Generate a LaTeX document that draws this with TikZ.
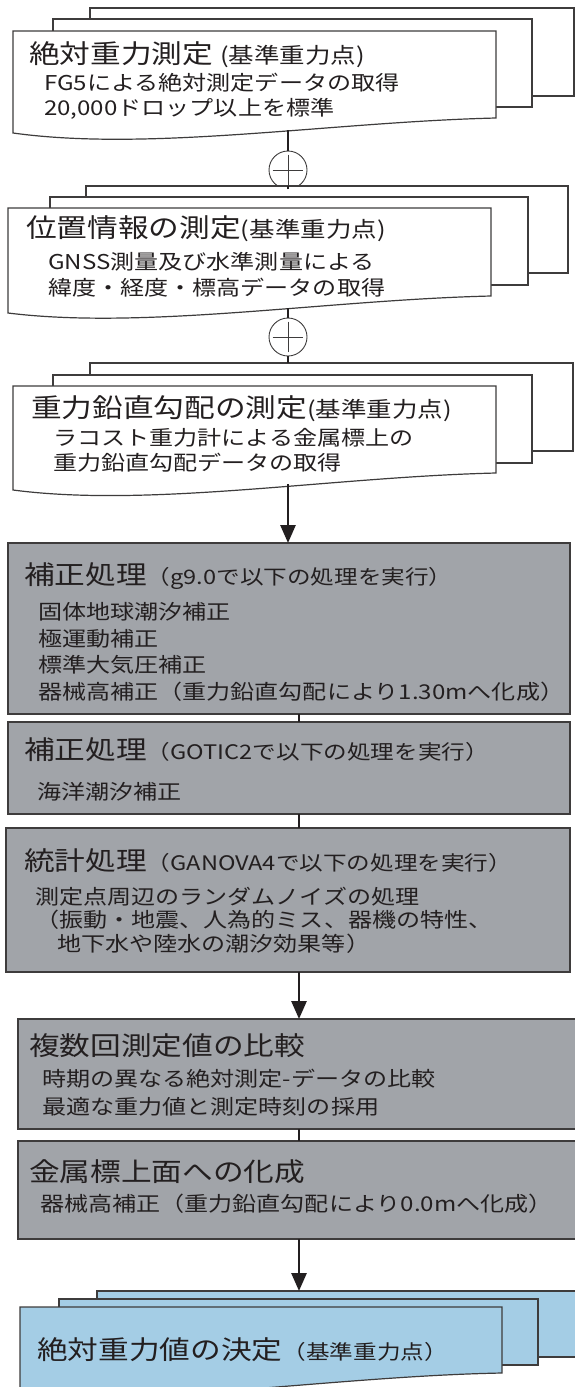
\documentclass[tikz,border=0pt]{standalone}
\usepackage{fontspec}
\setmainfont{Noto Sans CJK JP}[FakeStretch=1.18]
\usetikzlibrary{arrows.meta}
\definecolor{grayfill}{RGB}{161,164,169}
\definecolor{bluefill}{RGB}{164,205,229}
\definecolor{edge}{RGB}{62,60,60}
\definecolor{ink}{RGB}{35,31,32}
\tikzset{
  sheet/.style={draw=edge, line width=1.2pt, fill=white, inner sep=0pt, outer sep=0pt, anchor=north west},
  bluesheet/.style={sheet, fill=bluefill},
  graybox/.style={draw=edge, line width=1.2pt, fill=grayfill, inner sep=0pt, outer sep=0pt, anchor=north west},
  docline/.style={draw=edge, line width=1.2pt},
  ttl/.style={anchor=west, inner sep=0pt, font=\fontsize{26}{30}\selectfont, text=ink},
  body/.style={anchor=west, inner sep=0pt, font=\fontsize{20.4}{24}\selectfont, text=ink},
  plus/.style={circle, draw=edge, line width=0.9pt, minimum size=38pt, inner sep=0pt, fill=white},
  link/.style={draw=ink, line width=2.8pt},
  arr/.style={link, -{Triangle[length=18pt, width=15pt]}},
}
\newcommand{\sm}{\fontsize{20}{24}\selectfont}
\newcommand{\smd}{\fontsize{21.6}{24}\selectfont}
\begin{document}
\begin{tikzpicture}[x=1pt, y=-1pt]
\path[use as bounding box, fill=white] (0,0) rectangle (575,1387);
\clip (0,0) rectangle (575,1387);

% ---------- group 1 ----------
\node[sheet, minimum width=484pt, minimum height=88pt] (g1c) at (90,8) {};
\node[sheet, minimum width=479pt, minimum height=88pt] (g1b) at (53,19) {};
\draw[docline, fill=white] (13,31) -- (496,31) -- (496,118) .. controls (330,122) and (150,152) .. (13,133) -- cycle;
\node[ttl] (g1t) at (29,55) {絶対重力測定 {\smd (基準重力点)}};
\node[body] (g1l1) at (44,83) {FG5による絶対測定データの取得};
\node[body] (g1l2) at (44,109) {20,000ドロップ以上を標準};
\coordinate (g1w) at (288,130);
\node[plus] (p1) at (288,170) {};
\draw[line width=0.9pt, draw=edge] ([yshift=-4pt]p1.north) -- ([yshift=4pt]p1.south);
\draw[line width=0.9pt, draw=edge] ([xshift=4pt]p1.west) -- ([xshift=-4pt]p1.east);

% ---------- group 2 ----------
\node[sheet, minimum width=482pt, minimum height=87pt] (g2c) at (86,186) {};
\node[sheet, minimum width=478pt, minimum height=88pt] (g2b) at (50,197) {};
\draw[docline, fill=white] (8,208) -- (491,208) -- (491,296) .. controls (325,300) and (145,330) .. (8,313) -- cycle;
\node[ttl] (g2t) at (26,229) {位置情報の測定{\smd (基準重力点)}};
\node[body] (g2l1) at (48,262) {GNSS測量及び水準測量による};
\node[body] (g2l2) at (48,288) {緯度・経度・標高データの取得};
\coordinate (g2w) at (288,308);
\node[plus] (p2) at (288,337) {};
\draw[line width=0.9pt, draw=edge] ([yshift=-4pt]p2.north) -- ([yshift=4pt]p2.south);
\draw[line width=0.9pt, draw=edge] ([xshift=4pt]p2.west) -- ([xshift=-4pt]p2.east);

% ---------- group 3 ----------
\node[sheet, minimum width=483pt, minimum height=88pt] (g3c) at (90,363) {};
\node[sheet, minimum width=479pt, minimum height=88pt] (g3b) at (53,375) {};
\draw[docline, fill=white] (13,386) -- (496,386) -- (496,473) .. controls (330,477) and (150,508) .. (13,490) -- cycle;
\node[ttl] (g3t) at (31,409) {重力鉛直勾配の測定{\smd (基準重力点)}};
\node[body] (g3l1) at (53,438) {ラコスト重力計による金属標上の};
\node[body] (g3l2) at (53,463) {重力鉛直勾配データの取得};
\coordinate (g3w) at (288,484);

% ---------- gray boxes ----------
\node[graybox, minimum width=562pt, minimum height=171pt] (gr1) at (8,543) {};
\node[ttl] (gr1t) at (24,576) {補正処理{\sm （g9.0で以下の処理を実行）}};
\node[body] (gr1l1) at (38,612) {固体地球潮汐補正};
\node[body] (gr1l2) at (38,639) {極運動補正};
\node[body] (gr1l3) at (38,665) {標準大気圧補正};
\node[body] (gr1l4) at (38,692) {器械高補正（重力鉛直勾配により1.30mへ化成）};

\node[graybox, minimum width=562pt, minimum height=92pt] (gr2) at (8,722) {};
\node[ttl] (gr2t) at (24,750) {補正処理{\sm （GOTIC2で以下の処理を実行）}};
\node[body] (gr2l1) at (37,792) {海洋潮汐補正};

\node[graybox, minimum width=564pt, minimum height=144pt] (gr3) at (6,828) {};
\node[ttl] (gr3t) at (24,861) {統計処理{\sm （GANOVA4で以下の処理を実行）}};
\node[body] (gr3l1) at (35,897) {測定点周辺のランダムノイズの処理};
\node[body] (gr3l2) at (35,920) {（振動・地震、人為的ミス、器機の特性、};
\node[body] (gr3l3) at (57,944) {地下水や陸水の潮汐効果等）};

\node[graybox, minimum width=600pt, minimum height=110pt] (gr4) at (18,1019) {};
\node[ttl] (gr4t) at (29,1046) {複数回測定値の比較};
\node[body] (gr4l1) at (42,1079) {時期の異なる絶対測定-データの比較};
\node[body] (gr4l2) at (42,1107) {最適な重力値と測定時刻の採用};

\node[graybox, minimum width=600pt, minimum height=98pt] (gr5) at (18,1141) {};
\node[ttl] (gr5t) at (29,1172) {金属標上面への化成};
\node[body] (gr5l1) at (40,1204) {器械高補正（重力鉛直勾配により0.0mへ化成）};

% ---------- blue result ----------
\node[bluesheet, minimum width=500pt, minimum height=66pt] (bl3) at (97,1291) {};
\node[bluesheet, minimum width=479pt, minimum height=66pt] (bl2) at (59,1299) {};
\draw[docline, fill=bluefill] (20,1307) -- (502,1307) -- (502,1373) .. controls (340,1376) and (160,1405) .. (20,1395) -- cycle;
\node[ttl] (blt) at (37,1350) {絶対重力値の決定{\sm （基準重力点）}};

% ---------- connectors ----------
\coordinate (cx) at (299,0);
\draw[link] (g1w) -- (p1.north);
\draw[link] (p1.south) -- (p1 |- g2c.north);
\draw[link] (g2w) -- (p2.north);
\draw[link] (p2.south) -- (p2 |- g3c.north);
\draw[arr] (g3w) -- (g3w |- gr1.north);
\draw[link] (cx |- gr1.south) -- (cx |- gr2.north);
\draw[link] (cx |- gr2.south) -- (cx |- gr3.north);
\draw[arr] (cx |- gr3.south) -- (cx |- gr4.north);
\draw[link] (cx |- gr4.south) -- (cx |- gr5.north);
\draw[arr] (cx |- gr5.south) -- (cx |- bl3.north);
\end{tikzpicture}
\end{document}
